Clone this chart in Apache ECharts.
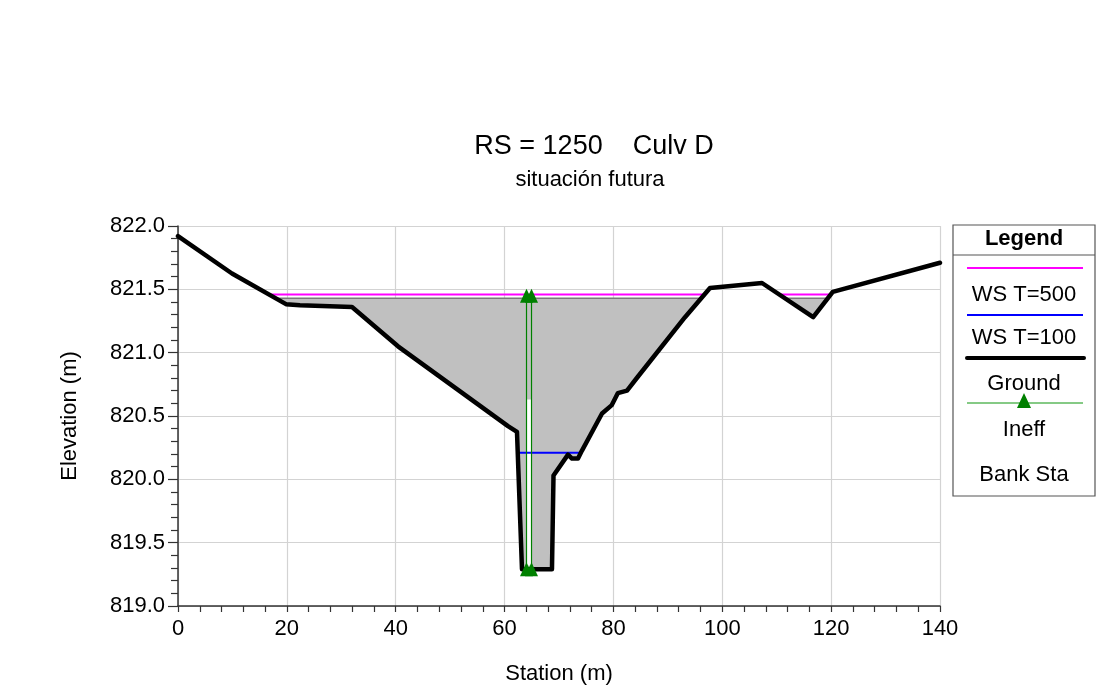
<!DOCTYPE html>
<html>
<head>
<meta charset="utf-8">
<script src="https://cdn.jsdelivr.net/npm/echarts@6/dist/echarts.min.js"></script>
<style>html,body{margin:0;padding:0;background:#fff;}#c{width:1113px;height:690px;}</style>
</head>
<body>
<div id="c"></div>
<script>
// ---- data ----
const stations   = [0, 9.92, 19.84, 22.41, 31.97, 40.42, 60.63, 62.28, 63.20, 68.71, 68.99, 71.65, 72.39, 73.49, 74.22, 77.90, 79.70, 80.80, 82.50, 84.30, 93.15, 97.74, 107.30, 116.70, 120.30, 140];
const elevations = [821.92, 821.625, 821.383, 821.375, 821.36, 821.05, 820.42, 820.375, 819.29, 819.29, 820.03, 820.195, 820.164, 820.164, 820.227, 820.52, 820.586, 820.68, 820.70, 820.80, 821.28, 821.51, 821.55, 821.28, 821.48, 821.71];
const wsT500 = 821.46;
const wsT100 = 820.21;
const fillLevel = 821.43;
const ineffStations = [64.03, 64.95];
const ineffElevLow = 819.29;
const ineffElevHigh = 821.45;
const openingStations = [64.03, 64.95];
const openingElev = [819.32, 820.63];
const xTicks = [0, 20, 40, 60, 80, 100, 120, 140];
const yTicks = [819.0, 819.5, 820.0, 820.5, 821.0, 821.5, 822.0];
const legendLabels = ['WS T=500', 'WS T=100', 'Ground', 'Ineff', 'Bank Sta'];
const titleText = 'RS = 1250    Culv D';
const subtitleText = 'situación futura';

// ---- helpers ----
function wetRegions(level) {
  const polys = []; let cur = null;
  for (let i = 0; i < stations.length; i++) {
    const x = stations[i], y = elevations[i];
    if (i > 0) {
      const x0 = stations[i-1], y0 = elevations[i-1];
      if ((y0 < level) !== (y < level)) {
        const xc = x0 + (level - y0) / (y - y0) * (x - x0);
        if (y < level) { cur = [[xc, level]]; }
        else { cur.push([xc, level]); polys.push(cur); cur = null; }
      }
    } else if (y < level) { cur = [[x, level]]; }
    if (y < level) cur.push([x, y]);
  }
  if (cur) { cur.push([stations[stations.length-1], level]); polys.push(cur); }
  return polys;
}
function wsSeries(level, color) {
  return wetRegions(level).map(p => ({
    type: 'line', symbol: 'none', silent: true, z: 4,
    data: [[p[0][0], level], [p[p.length-1][0], level]],
    lineStyle: { color: color, width: 2 }
  }));
}
const FONT = 'Liberation Sans, Arial, Helvetica, sans-serif';
const fillPolys = wetRegions(fillLevel);
const openingPoly = [[openingStations[0], openingElev[0]], [openingStations[1], openingElev[0]], [openingStations[1], openingElev[1]], [openingStations[0], openingElev[1]]];

const chart = echarts.init(document.getElementById('c'), null, { renderer: 'canvas' });

const series = [
  {
    type: 'custom', coordinateSystem: 'cartesian2d', silent: true, z: 2, clip: true,
    data: [[70, 820.5]],
    renderItem: function (params, api) {
      const children = fillPolys.map(p => ({
        type: 'polygon', shape: { points: p.map(pt => api.coord(pt)) },
        style: { fill: '#c0c0c0', stroke: '#7a7a7a', lineWidth: 1.5 }
      }));
      children.push({
        type: 'polygon', shape: { points: openingPoly.map(pt => api.coord(pt)) },
        style: { fill: '#ffffff', stroke: null }
      });
      return { type: 'group', children: children };
    }
  }
].concat(wsSeries(wsT500, '#ff00ff'))
 .concat(wsSeries(wsT100, '#0000ff'))
 .concat([
  {
    type: 'line', name: 'Ground', symbol: 'none', silent: true, z: 5,
    data: stations.map((s, i) => [s, elevations[i]]),
    lineStyle: { color: '#000', width: 4.5, join: 'round', cap: 'round' }
  }
 ])
 .concat(ineffStations.map(s => ({
    type: 'line', name: 'Ineff', silent: true, z: 6,
    symbol: 'triangle', symbolSize: [13, 14], showAllSymbol: true,
    itemStyle: { color: '#008000' },
    data: [[s, ineffElevLow], [s, ineffElevHigh]],
    lineStyle: { color: '#008000', width: 1.2 }
 })));

const graphics = [
  { type: 'text', x: 594, y: 147, style: { text: titleText, font: '27px ' + FONT, fill: '#000', textAlign: 'center', textVerticalAlign: 'middle' } },
  { type: 'text', x: 590, y: 180, style: { text: subtitleText, font: '22px ' + FONT, fill: '#000', textAlign: 'center', textVerticalAlign: 'middle' } },
  { type: 'rect', shape: { x: 953, y: 225, width: 142, height: 271 }, style: { fill: '#fff', stroke: '#555', lineWidth: 1.2 } },
  { type: 'line', shape: { x1: 953, y1: 255, x2: 1095, y2: 255 }, style: { stroke: '#555', lineWidth: 1.2 } },
  { type: 'text', x: 1024, y: 239, style: { text: 'Legend', font: 'bold 22px ' + FONT, fill: '#000', textAlign: 'center', textVerticalAlign: 'middle' } },
  { type: 'line', shape: { x1: 967, y1: 268, x2: 1083, y2: 268 }, style: { stroke: '#ff00ff', lineWidth: 2 } },
  { type: 'text', x: 1024, y: 295, style: { text: legendLabels[0], font: '22px ' + FONT, fill: '#000', textAlign: 'center', textVerticalAlign: 'middle' } },
  { type: 'line', shape: { x1: 967, y1: 315, x2: 1083, y2: 315 }, style: { stroke: '#0000ff', lineWidth: 2 } },
  { type: 'text', x: 1024, y: 338, style: { text: legendLabels[1], font: '22px ' + FONT, fill: '#000', textAlign: 'center', textVerticalAlign: 'middle' } },
  { type: 'line', shape: { x1: 967, y1: 358, x2: 1084, y2: 358 }, style: { stroke: '#000', lineWidth: 4, lineCap: 'round' } },
  { type: 'text', x: 1024, y: 384, style: { text: legendLabels[2], font: '22px ' + FONT, fill: '#000', textAlign: 'center', textVerticalAlign: 'middle' } },
  { type: 'line', shape: { x1: 967, y1: 403, x2: 1083, y2: 403 }, style: { stroke: '#5cb85c', lineWidth: 1.5 } },
  { type: 'polygon', shape: { points: [[1024, 393], [1031, 408], [1017, 408]] }, style: { fill: '#008000' } },
  { type: 'text', x: 1024, y: 430, style: { text: legendLabels[3], font: '22px ' + FONT, fill: '#000', textAlign: 'center', textVerticalAlign: 'middle' } },
  { type: 'text', x: 1024, y: 475, style: { text: legendLabels[4], font: '22px ' + FONT, fill: '#000', textAlign: 'center', textVerticalAlign: 'middle' } }
];

chart.setOption({
  animation: false,
  backgroundColor: '#fff',
  grid: { left: 178, right: 173, top: 226, bottom: 80, containLabel: false },
  xAxis: {
    type: 'value', min: xTicks[0], max: xTicks[xTicks.length-1], interval: xTicks[1] - xTicks[0],
    name: 'Station (m)', nameLocation: 'middle', nameGap: 57,
    nameTextStyle: { fontSize: 22, color: '#000', fontFamily: FONT },
    axisLine: { show: true, onZero: false, lineStyle: { color: '#333', width: 1.5 } },
    axisTick: { show: true, length: 6, lineStyle: { color: '#333', width: 1.2 } },
    minorTick: { show: true, splitNumber: 5, length: 6, lineStyle: { color: '#333', width: 1.2 } },
    axisLabel: { fontSize: 22, color: '#000', fontFamily: FONT, margin: 12 },
    splitLine: { show: true, lineStyle: { color: '#d3d3d3', width: 1.2 } }
  },
  yAxis: {
    type: 'value', min: yTicks[0], max: yTicks[yTicks.length-1], interval: yTicks[1] - yTicks[0],
    name: 'Elevation (m)', nameLocation: 'middle', nameGap: 97,
    nameTextStyle: { fontSize: 22, color: '#000', fontFamily: FONT },
    axisLine: { show: true, onZero: false, lineStyle: { color: '#333', width: 1.5 } },
    axisTick: { show: true, length: 10, lineStyle: { color: '#333', width: 1.2 } },
    minorTick: { show: true, splitNumber: 5, length: 7, lineStyle: { color: '#333', width: 1.2 } },
    axisLabel: { fontSize: 22, color: '#000', fontFamily: FONT, margin: 13, formatter: v => v.toFixed(1) },
    splitLine: { show: true, lineStyle: { color: '#d3d3d3', width: 1.2 } }
  },
  series: series,
  graphic: graphics
});
</script>
</body>
</html>
